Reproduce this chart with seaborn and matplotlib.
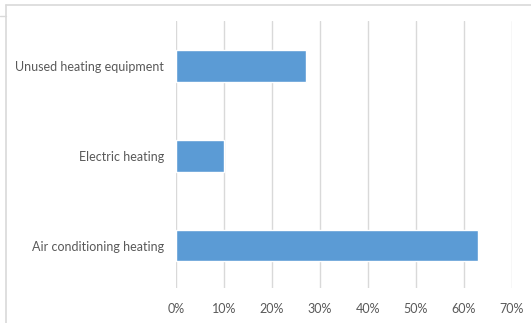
import matplotlib
matplotlib.use("Agg")
import matplotlib.pyplot as plt
from matplotlib.lines import Line2D
from matplotlib.ticker import PercentFormatter
import seaborn as sns
import pandas as pd

categories = ["Unused heating equipment", "Electric heating", "Air conditioning heating"]
values = [0.27, 0.10, 0.63]
x_ticks = [0.0, 0.1, 0.2, 0.3, 0.4, 0.5, 0.6, 0.7]

df = pd.DataFrame({"category": categories, "value": values})

sns.set_theme(style="white")
plt.rcParams["font.family"] = ["Lato", "DejaVu Sans"]

W, H = 531, 323
fig = plt.figure(figsize=(W / 100, H / 100), dpi=100)
ax = fig.add_axes([176 / W, 1 - 288 / H, 336 / W, 267 / H])

sns.barplot(data=df, y="category", x="value", order=categories, color="#5b9bd5",
            saturation=1, width=0.35, ax=ax)

ax.set_xlim(0, 0.7)
ax.set_ylim(2.47, -0.5)
ax.set_xticks(x_ticks)
ax.xaxis.set_major_formatter(PercentFormatter(1.0, decimals=0))
ax.grid(axis="x", color="#d9d9d9", linewidth=1.0)
ax.set_axisbelow(True)
for s in ax.spines.values():
    s.set_visible(False)
ax.set_xlabel("")
ax.set_ylabel("")
ax.tick_params(axis="x", length=0, pad=10.5, labelsize=9, labelcolor="#595959")
ax.tick_params(axis="y", length=0, pad=8.5, labelsize=9, labelcolor="#595959")

# chart frame
grey = "#d9d9d9"
fig.add_artist(Line2D([5.5 / W, 5.5 / W], [0, 1 - 4.5 / H], transform=fig.transFigure, color=grey, lw=1.2))
fig.add_artist(Line2D([5.5 / W, 1], [1 - 4.5 / H, 1 - 4.5 / H], transform=fig.transFigure, color=grey, lw=1.2))
fig.add_artist(Line2D([0, 5.5 / W], [1 - 16 / H, 1 - 16 / H], transform=fig.transFigure, color=grey, lw=1.0))

fig.savefig("out.png", dpi=100, facecolor="white")
